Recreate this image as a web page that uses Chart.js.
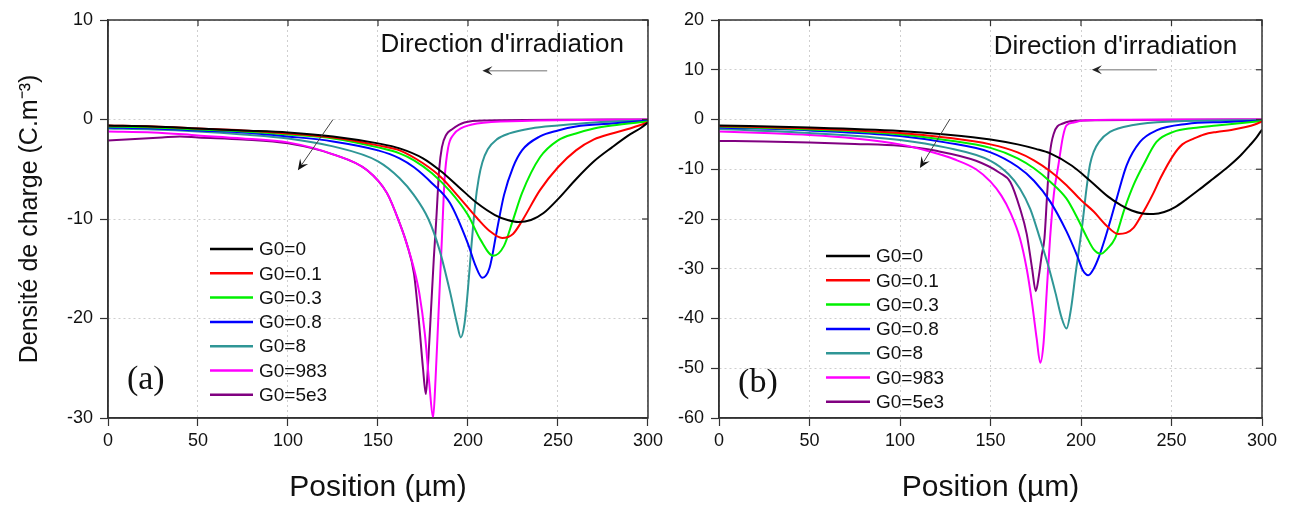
<!DOCTYPE html>
<html><head><meta charset="utf-8">
<script src="https://cdn.jsdelivr.net/npm/chart.js@4/dist/chart.umd.min.js"></script>
<style>
html,body{margin:0;padding:0;background:#fff;}
#wrap{position:relative;width:1289px;height:507px;overflow:hidden;background:#fff;}
#ca{position:absolute;left:0;top:0;}
#cb{position:absolute;left:660px;top:0;}
</style></head><body>
<div id="wrap"><canvas id="ca" width="667" height="507"></canvas><canvas id="cb" width="629" height="507"></canvas></div>
<script>
// ---------- labels / ticks ----------
const seriesLabels = ['G0=0','G0=0.1','G0=0.3','G0=0.8','G0=8','G0=983','G0=5e3'];
const seriesColors = ['#000000','#ff0000','#00f000','#0000ff','#2f9696','#ff00ff','#800080'];
const xTicks  = [0,50,100,150,200,250,300];
const yTicksA = [10,0,-10,-20,-30];
const yTicksB = [20,10,0,-10,-20,-30,-40,-50,-60];
const xTitle = 'Position (µm)';
const yTitle = 'Densité de charge (C.m⁻³)';

// ---------- panel (a) ----------
const posA_G0_0   = [0,25,50,75,100,125,150,162,175,185,195,205,215,222,228,235,242,250,260,270,280,290,296,300];
const rhoA_G0_0   = [-0.6,-0.7,-0.9,-1.1,-1.3,-1.7,-2.4,-2.9,-3.9,-5.2,-6.8,-8.4,-9.6,-10.1,-10.3,-10.1,-9.4,-8.0,-6.0,-4.2,-2.8,-1.5,-0.85,-0.3];
const posA_G0_01  = [0,25,50,75,100,125,150,162,175,185,195,205,212,219,225,230,240,250,260,270,280,290,300];
const rhoA_G0_01  = [-0.6,-0.7,-0.9,-1.1,-1.4,-1.8,-2.6,-3.1,-4.4,-5.8,-7.8,-9.9,-11.2,-11.9,-11.5,-10.2,-7.1,-4.8,-3.1,-2.0,-1.4,-0.9,-0.3];
const posA_G0_03  = [0,25,50,75,100,125,150,162,170,180,190,200,207,214,220,225,230,240,250,260,270,280,300];
const rhoA_G0_03  = [-0.7,-0.8,-1.0,-1.2,-1.5,-1.9,-2.8,-3.4,-4.1,-5.4,-7.2,-9.6,-12.1,-13.7,-12.7,-10.1,-7.4,-3.8,-2.1,-1.4,-0.9,-0.6,-0.2];
const posA_G0_08  = [0,25,50,75,100,125,150,162,170,180,190,200,204,208,212,216,220,225,230,240,250,260,280,300];
const rhoA_G0_08  = [-0.8,-0.9,-1.1,-1.3,-1.7,-2.2,-3.1,-3.9,-4.8,-6.4,-8.4,-12.5,-14.6,-15.9,-14.9,-11.2,-7.6,-4.8,-3.1,-1.7,-1.1,-0.7,-0.4,-0.1];
const posA_G0_8   = [0,25,50,75,100,125,150,162,170,178,184,190,194,196,198,200,202,204,206,208,211,216,223,235,250,270,300];
const rhoA_G0_8   = [-0.9,-1.0,-1.2,-1.5,-1.9,-2.7,-4.2,-5.9,-7.6,-10.0,-13.0,-17.3,-20.6,-21.9,-20.6,-17.0,-12.5,-8.5,-5.9,-4.3,-3.0,-2.0,-1.4,-0.9,-0.6,-0.3,-0.1];
const posA_G0_983 = [0,25,50,75,100,125,144,155,162,166,170,173,176,178.5,180.6,182,183.5,185.5,187,189,192,196,205,230,300];
const rhoA_G0_983 = [-1.2,-1.3,-1.6,-1.9,-2.3,-3.5,-5.1,-7.4,-10.4,-12.5,-15.0,-17.5,-21.5,-26.5,-30.0,-26.0,-20.0,-12.0,-6.0,-2.8,-1.5,-0.9,-0.4,-0.15,0];
const posA_G0_5e3 = [0,10,20,30,40,50,75,100,125,144,155,162,166,170,172.6,175,176.6,178,179.5,181,182.4,184,185.5,188,191,198,210,300];
const rhoA_G0_5e3 = [-2.1,-2.0,-1.9,-1.8,-1.7,-1.8,-2.0,-2.4,-3.5,-5.1,-7.4,-10.4,-12.5,-15.5,-20.0,-25.0,-27.6,-24.0,-19.0,-14.0,-10.0,-5.0,-2.8,-1.5,-1.0,-0.3,-0.1,0];

// ---------- panel (b) ----------
const posB_G0_0   = [0,50,100,125,150,165,175,183,195,205,215,222,228,234,240,246,252,258,266,273,281,288,293,297,300];
const rhoB_G0_0   = [-1.2,-1.6,-2.3,-3.0,-4.0,-5.0,-5.9,-6.8,-9.3,-12.3,-15.5,-17.2,-18.3,-18.9,-19.0,-18.6,-17.6,-16.1,-13.9,-11.9,-9.6,-7.3,-5.3,-3.6,-2.0];
const posB_G0_01  = [0,50,100,125,150,165,174,183,192,200,207,214,220.5,225,229,233,236,240,244,251,256,262,268,275,283,291,296,300];
const rhoB_G0_01  = [-1.3,-1.8,-2.7,-3.6,-5.0,-6.6,-8.2,-10.4,-13.2,-16.2,-18.5,-21.3,-23.0,-22.8,-21.8,-19.5,-17.6,-14.8,-11.7,-7.2,-5.0,-3.9,-3.0,-2.5,-2.1,-1.5,-1.0,-0.4];
const posB_G0_03  = [0,50,100,125,150,165,174,183,192,198,203,207,211,214.5,218.8,224,229,234.4,241.7,251,262,275,300];
const rhoB_G0_03  = [-1.4,-2.0,-3.0,-4.1,-5.7,-7.8,-9.8,-12.5,-15.9,-19.8,-23.5,-26.1,-27.0,-26.0,-23.9,-18.0,-13.2,-9.2,-4.5,-2.5,-1.7,-1.2,-0.3];
const posB_G0_08  = [0,50,100,125,150,165,174,183,192,198,201,204,207,210,213.3,216.5,219.7,225.2,232.6,241.7,258.3,280,300];
const rhoB_G0_08  = [-1.6,-2.2,-3.3,-4.6,-6.6,-9.5,-12.3,-16.5,-22.5,-27.5,-30.3,-31.3,-30.0,-27.5,-23.9,-20.0,-15.9,-9.2,-4.5,-2.2,-0.9,-0.5,-0.2];
const posB_G0_8   = [0,50,100,125,150,160,166.3,172,177.3,182,186,189,192,194.5,197,200.6,203,205,207,210,216,228.9,251,300];
const rhoB_G0_8   = [-1.9,-2.7,-4.1,-5.6,-8.3,-11.0,-13.9,-18.0,-23.9,-29.5,-35.0,-39.5,-42.0,-38.0,-31.0,-21.5,-14.0,-9.0,-6.5,-4.5,-2.5,-1.1,-0.4,-0.1];
const posB_G0_983 = [0,25,50,75,100,117,130,142,150,156,161,166.3,170,173,175.5,177.5,179.3,181,182.9,185,187.5,190,192,196,201,220,300];
const rhoB_G0_983 = [-2.4,-2.7,-3.1,-3.8,-5.0,-6.5,-8.0,-10.0,-12.5,-15.3,-18.7,-23.9,-30.0,-37.0,-44.0,-48.9,-45.0,-35.0,-23.9,-15.0,-9.2,-3.5,-1.2,-0.6,-0.2,-0.05,0];
const posB_G0_5e3 = [0,25,50,75,100,120,142,155,161,166.3,170,173,175,176.7,178.2,179.8,181.3,182.8,185,190,200,300];
const rhoB_G0_5e3 = [-4.3,-4.4,-4.6,-4.9,-5.3,-6.3,-8.3,-10.7,-12.6,-17.9,-23.0,-30.0,-34.5,-31.5,-27.5,-23.9,-15.0,-7.0,-2.8,-0.8,-0.2,0];

const panelA = {
  xs:[posA_G0_0,posA_G0_01,posA_G0_03,posA_G0_08,posA_G0_8,posA_G0_983,posA_G0_5e3],
  ys:[rhoA_G0_0,rhoA_G0_01,rhoA_G0_03,rhoA_G0_08,rhoA_G0_8,rhoA_G0_983,rhoA_G0_5e3],
  yTicks:yTicksA, yWidth:108, padRight:15, showYTitle:true,
  decor:{legendX:210, legendLen:43, legendTop:249, legendStep:24.3,
         note:"Direction d'irradiation", noteX:219, noteY:7.5,
         arrowH:[244,4.9,208,4.9], arrowD:[125,0,105.5,-5.1], tag:'(a)', tagX:21, tagY:-26.2}
};
const panelB = {
  xs:[posB_G0_0,posB_G0_01,posB_G0_03,posB_G0_08,posB_G0_8,posB_G0_983,posB_G0_5e3],
  ys:[rhoB_G0_0,rhoB_G0_01,rhoB_G0_03,rhoB_G0_08,rhoB_G0_8,rhoB_G0_983,rhoB_G0_5e3],
  yTicks:yTicksB, yWidth:59, padRight:27, showYTitle:false,
  decor:{legendX:166, legendLen:44, legendTop:256, legendStep:24.3,
         note:"Direction d'irradiation", noteX:219, noteY:14.6,
         arrowH:[242,10,206,10], arrowD:[127.6,0.1,111,-9.75], tag:'(b)', tagX:21.5, tagY:-53}
};

const SANS = '"Liberation Sans", Arial, sans-serif';
function font(size){ return {family:SANS, size:size, lineHeight:1.2}; }

function arrow(ctx, x1, y1, x2, y2, head, shaftColor, headColor, lw){
  const ang = Math.atan2(y2-y1, x2-x1);
  ctx.strokeStyle = shaftColor; ctx.lineWidth = lw; ctx.setLineDash([]);
  ctx.beginPath(); ctx.moveTo(x1,y1);
  ctx.lineTo(x2 - Math.cos(ang)*head*0.6, y2 - Math.sin(ang)*head*0.6); ctx.stroke();
  ctx.fillStyle = headColor;
  ctx.beginPath();
  ctx.moveTo(x2, y2);
  ctx.lineTo(x2 - head*Math.cos(ang-0.42), y2 - head*Math.sin(ang-0.42));
  ctx.lineTo(x2 - head*0.55*Math.cos(ang), y2 - head*0.55*Math.sin(ang));
  ctx.lineTo(x2 - head*Math.cos(ang+0.42), y2 - head*Math.sin(ang+0.42));
  ctx.closePath(); ctx.fill();
}

const decorPlugin = {
  id:'panelDecor',
  afterDatasetsDraw(chart, args, o){
    const ctx = chart.ctx, xs = chart.scales.x, ys = chart.scales.y, a = chart.chartArea;
    ctx.save();
    ctx.setLineDash([]);
    // frame
    ctx.strokeStyle = '#333'; ctx.lineWidth = 1.5;
    ctx.strokeRect(a.left, a.top, a.right-a.left, a.bottom-a.top);
    // inner ticks on top and right
    ctx.lineWidth = 1.2;
    xs.ticks.forEach(t => { const p = xs.getPixelForValue(t.value);
      ctx.beginPath(); ctx.moveTo(p, a.top); ctx.lineTo(p, a.top+6); ctx.stroke(); });
    ys.ticks.forEach(t => { const p = ys.getPixelForValue(t.value);
      ctx.beginPath(); ctx.moveTo(a.right, p); ctx.lineTo(a.right-6, p); ctx.stroke(); });
    // legend
    ctx.font = '19px ' + SANS; ctx.textAlign = 'left'; ctx.textBaseline = 'middle';
    chart.data.datasets.forEach((ds, i) => {
      const y = o.legendTop + i*o.legendStep;
      ctx.strokeStyle = ds.borderColor; ctx.lineWidth = 2.5;
      ctx.beginPath(); ctx.moveTo(o.legendX, y); ctx.lineTo(o.legendX+o.legendLen, y); ctx.stroke();
      ctx.fillStyle = '#111';
      ctx.fillText(ds.label, o.legendX+o.legendLen+6, y+1);
    });
    // direction note
    ctx.font = '26px ' + SANS; ctx.textAlign = 'center'; ctx.fillStyle = '#111';
    ctx.fillText(o.note, xs.getPixelForValue(o.noteX), ys.getPixelForValue(o.noteY));
    const h = o.arrowH;
    arrow(ctx, xs.getPixelForValue(h[0]), ys.getPixelForValue(h[1]), xs.getPixelForValue(h[2]), ys.getPixelForValue(h[3]), 11, '#a0a0a0', '#222', 1.6);
    const d = o.arrowD;
    arrow(ctx, xs.getPixelForValue(d[0]), ys.getPixelForValue(d[1]), xs.getPixelForValue(d[2]), ys.getPixelForValue(d[3]), 12, '#444', '#111', 1);
    // panel tag
    ctx.font = '34px "Liberation Serif", "Times New Roman", serif'; ctx.textAlign = 'center'; ctx.fillStyle = '#111';
    ctx.fillText(o.tag, xs.getPixelForValue(o.tagX), ys.getPixelForValue(o.tagY));
    ctx.restore();
  }
};

function gridOpts(){
  return {color:'#cfcfcf', lineWidth:1, tickColor:'#333', tickLength:8, tickWidth:1.2, tickBorderDash:[]};
}

function build(id, p){
  const datasets = p.xs.map((xarr, i) => ({
    label: seriesLabels[i],
    data: xarr.map((x, k) => ({x:x, y:p.ys[i][k]})),
    borderColor: seriesColors[i], backgroundColor: seriesColors[i],
    borderWidth: 2, pointRadius: 0, fill:false, cubicInterpolationMode:'monotone'
  }));
  return new Chart(document.getElementById(id), {
    type:'line',
    data:{datasets},
    options:{
      responsive:false, animation:false, devicePixelRatio:1,
      layout:{padding:{left:0, top:20, right:p.padRight, bottom:0}},
      plugins:{legend:{display:false}, tooltip:{enabled:false}, panelDecor:p.decor},
      scales:{
        x:{type:'linear', min:xTicks[0], max:xTicks[xTicks.length-1],
           afterBuildTicks: sc => { sc.ticks = xTicks.map(v => ({value:v})); },
           afterFit: sc => { sc.height = 89; },
           ticks:{font:font(18), color:'#111', padding:4, maxRotation:0, autoSkip:false},
           grid:gridOpts(),
           border:{display:true, color:'#333', width:1.5, dash:[2,3]},
           title:{display:true, text:xTitle, font:font(30), color:'#111', padding:{top:0, bottom:1}}},
        y:{type:'linear', min:Math.min(...p.yTicks), max:Math.max(...p.yTicks),
           afterBuildTicks: sc => { sc.ticks = p.yTicks.slice().reverse().map(v => ({value:v})); },
           afterFit: sc => { sc.width = p.yWidth; },
           ticks:{font:font(18), color:'#111', padding:7, autoSkip:false},
           grid:gridOpts(),
           border:{display:true, color:'#333', width:1.5, dash:[2,3]},
           title:{display:p.showYTitle, text:yTitle, font:font(25), color:'#111', padding:{top:15, bottom:0}}}
      }
    },
    plugins:[decorPlugin]
  });
}
build('ca', panelA);
build('cb', panelB);
</script>
</body></html>
